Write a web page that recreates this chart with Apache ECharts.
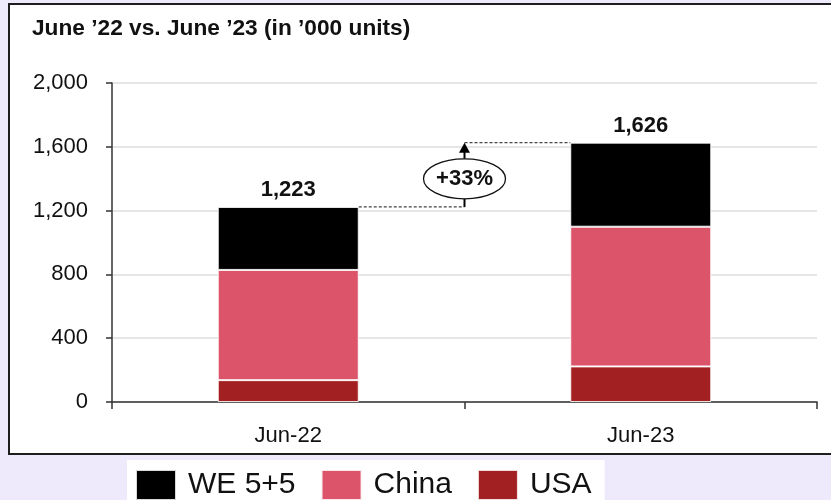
<!DOCTYPE html>
<html>
<head>
<meta charset="utf-8">
<script src="https://cdn.jsdelivr.net/npm/echarts@6/dist/echarts.min.js"></script>
<style>
  html, body { margin: 0; padding: 0; width: 831px; height: 500px; overflow: hidden; background: #eeeafc; }
  #panel { position: absolute; left: 8px; top: 3px; width: 840px; height: 448px; background: #fff; border: 2px solid #1e1e1e; }
  #chart { position: absolute; left: 0; top: 0; width: 831px; height: 500px; }
</style>
</head>
<body>
<div id="panel"></div>
<div id="chart"></div>
<script>
// ---- data ----
const categories = ['Jun-22', 'Jun-23'];
const usa = [137, 223];
const china = [691, 876];
const we55 = [395, 527];
const totals = [1223, 1626];
const yTicks = [0, 400, 800, 1200, 1600, 2000];
const titleText = 'June \u201922 vs. June \u201923 (in \u2019000 units)';

const fmt = v => String(v).replace(/\B(?=(\d{3})+(?!\d))/g, ',');
const FONT = 'Liberation Sans, Arial, sans-serif';

const chart = echarts.init(document.getElementById('chart'), null, { renderer: 'canvas' });

const barCommon = {
  type: 'bar',
  stack: 'total',
  barWidth: '40%',
  itemStyle: { borderColor: 'rgba(255,255,255,0.85)', borderWidth: 1 }
};

chart.setOption({
  backgroundColor: 'transparent',
  animation: false,
  title: {
    text: titleText,
    left: 27,
    top: 12,
    textStyle: { fontFamily: FONT, fontSize: 22.7, fontWeight: 'bold', color: '#111' }
  },
  grid: { left: 112, right: 14, top: 83, bottom: 98 },
  legend: {
    data: ['WE 5+5', 'China', 'USA'],
    left: 127,
    top: 460,
    orient: 'horizontal',
    icon: 'rect',
    itemWidth: 40,
    itemHeight: 30,
    itemGap: 25,
    backgroundColor: '#ffffff',
    padding: [9, 13, 12, 8],
    textStyle: { fontFamily: FONT, fontSize: 30, color: '#111', padding: [0, 0, 0, 7] }
  },
  xAxis: {
    type: 'category',
    data: categories,
    boundaryGap: true,
    axisLine: { lineStyle: { color: '#333', width: 1.5 } },
    axisTick: { show: true, length: 7, lineStyle: { color: '#333', width: 1.5 } },
    axisLabel: { margin: 23, fontFamily: FONT, fontSize: 22, color: '#111' }
  },
  yAxis: {
    type: 'value',
    min: yTicks[0],
    max: yTicks[yTicks.length - 1],
    interval: yTicks[1] - yTicks[0],
    axisLine: { show: true, lineStyle: { color: '#333', width: 1.5 } },
    axisTick: { show: true, length: 6, lineStyle: { color: '#333', width: 1.5 } },
    axisLabel: { margin: 24, fontFamily: FONT, fontSize: 22, color: '#111', formatter: v => fmt(v) },
    splitLine: { show: true, lineStyle: { color: '#dedede', width: 1.5 } }
  },
  series: [
    Object.assign({}, barCommon, { name: 'USA', data: usa, itemStyle: Object.assign({}, barCommon.itemStyle, { color: '#a32022' }) }),
    Object.assign({}, barCommon, { name: 'China', data: china, itemStyle: Object.assign({}, barCommon.itemStyle, { color: '#db546a' }) }),
    Object.assign({}, barCommon, {
      name: 'WE 5+5', data: we55,
      itemStyle: Object.assign({}, barCommon.itemStyle, { color: '#000000' }),
      label: {
        show: true, position: 'top', distance: 6,
        fontFamily: FONT, fontSize: 22, fontWeight: 'bold', color: '#111',
        formatter: p => fmt(totals[p.dataIndex])
      }
    }),
    {
      type: 'custom',
      name: 'growth',
      z: 10,
      silent: true,
      data: [[0, totals[0], totals[1]]],
      encode: { x: 0, y: [1, 2] },
      renderItem: function (params, api) {
        const v1 = api.value(1), v2 = api.value(2);
        const p0 = api.coord([0, v1]);
        const p1 = api.coord([1, v2]);
        const band = api.size([1, 0])[0];
        const half = band * 0.4 / 2;
        const mx = (p0[0] + p1[0]) / 2;
        const cy = (p0[1] + p1[1]) / 2 + 4;
        const pct = Math.round((v2 / v1 - 1) * 100);
        const dash = { stroke: '#444', lineWidth: 1.2, lineDash: [3, 2] };
        return {
          type: 'group',
          children: [
            { type: 'line', shape: { x1: p0[0] + half, y1: p0[1], x2: mx, y2: p0[1] }, style: dash },
            { type: 'line', shape: { x1: mx, y1: p1[1], x2: p1[0] - half, y2: p1[1] }, style: dash },
            { type: 'line', shape: { x1: mx, y1: p0[1], x2: mx, y2: p1[1] + 8 }, style: { stroke: '#000', lineWidth: 2 } },
            { type: 'polygon', shape: { points: [[mx, p1[1]], [mx - 5.5, p1[1] + 10], [mx + 5.5, p1[1] + 10]] }, style: { fill: '#000' } },
            { type: 'ellipse', shape: { cx: mx, cy: cy, rx: 41, ry: 20 }, style: { fill: '#fff', stroke: '#111', lineWidth: 1.3 } },
            { type: 'text', x: mx, y: cy, style: { text: '+' + pct + '%', align: 'center', verticalAlign: 'middle', font: 'bold 22px ' + FONT, fill: '#111' } }
          ]
        };
      }
    }
  ]
});
</script>
</body>
</html>
